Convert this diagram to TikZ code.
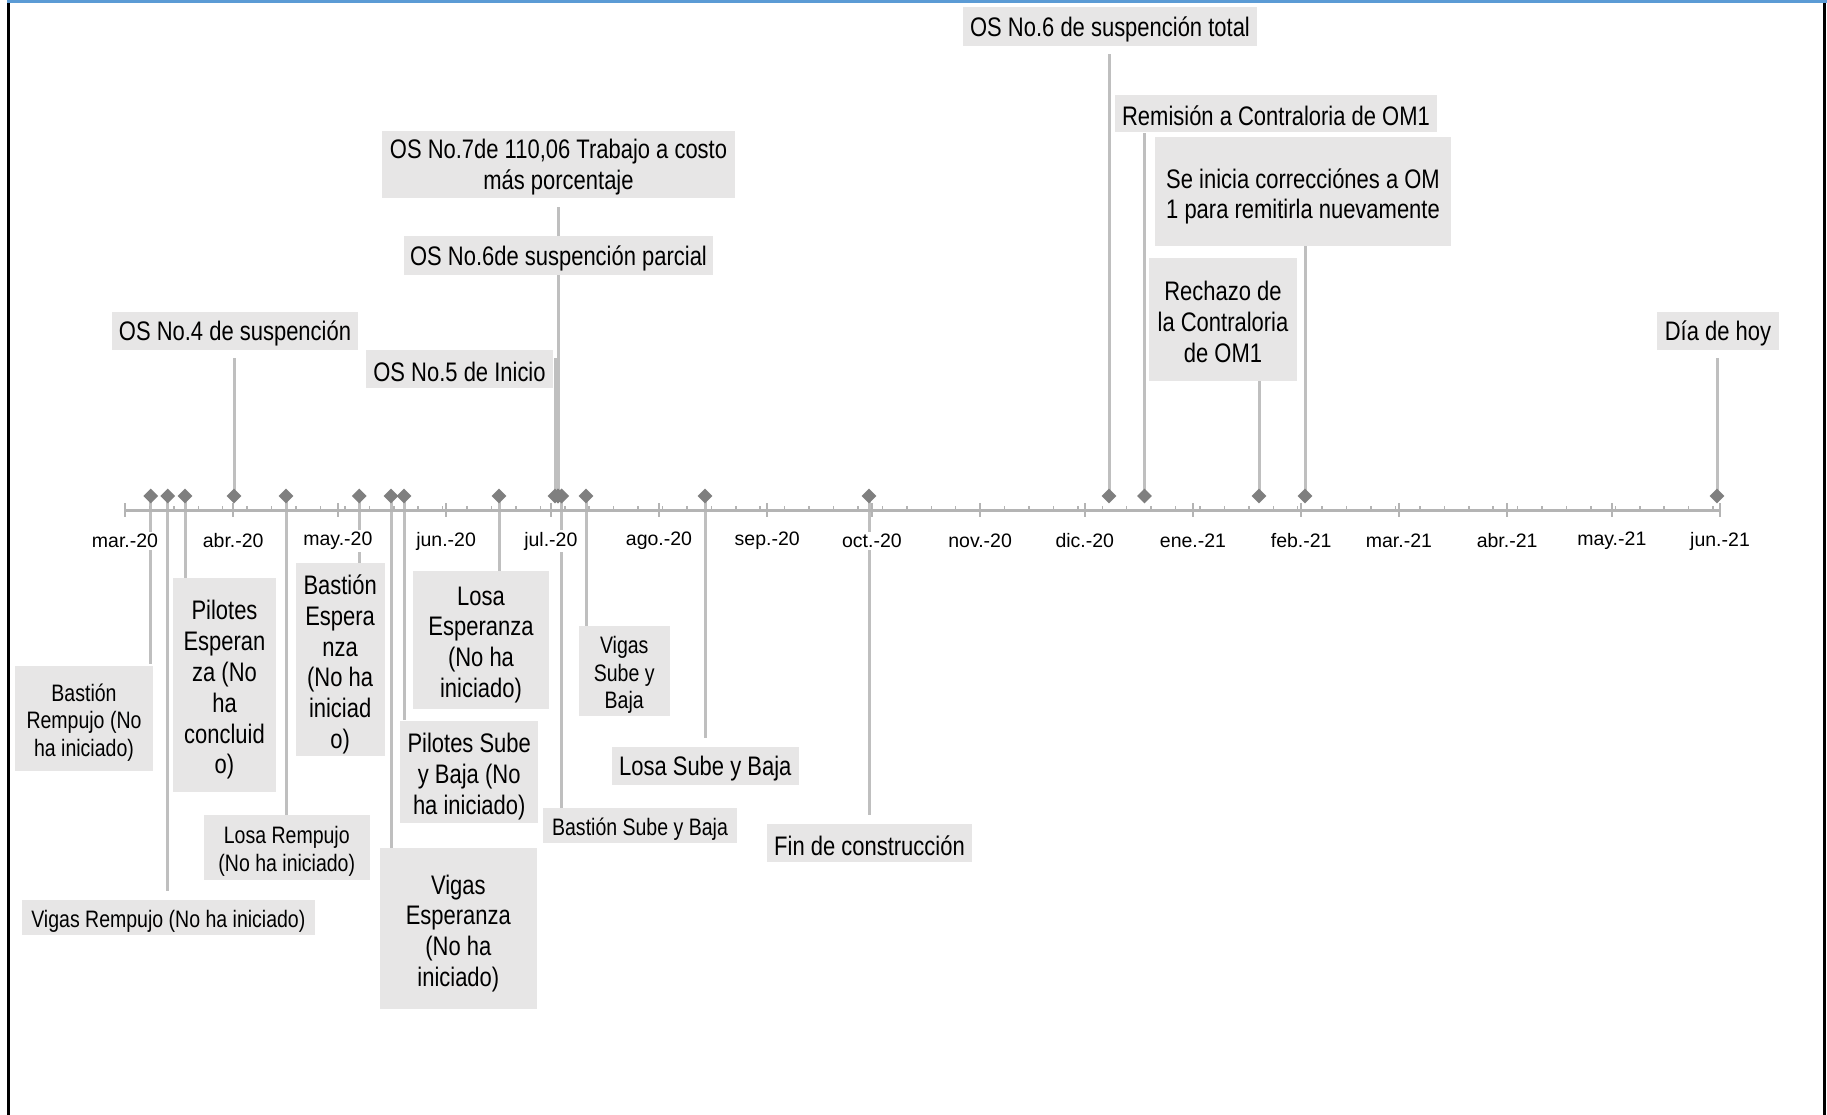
\documentclass[tikz,border=0pt]{standalone}
\usepackage{fontspec}
\setmainfont{Liberation Sans}
\newfontfamily\narrowfont[FakeStretch=0.82]{Liberation Sans}
\usetikzlibrary{shapes.geometric,calc}
\pgfdeclarelayer{bg}
\pgfsetlayers{bg,main}
\definecolor{boxfill}{HTML}{E7E6E6}
\definecolor{connc}{HTML}{BFBFBF}
\definecolor{diamc}{HTML}{7F7F7F}
\definecolor{axisc}{HTML}{B4B4B4}
\definecolor{framblue}{HTML}{5B9BD5}
\tikzset{
  boxshape/.style={fill=boxfill, inner sep=0pt},
  txtbase/.style={inner sep=0pt, align=center, text=black},
  bigtxt/.style={txtbase, yshift=-5pt, font=\narrowfont\fontsize{26.8}{30.8}\selectfont},
  bigone/.style={txtbase, yshift=-2.5pt, font=\narrowfont\fontsize{26.8}{30.8}\selectfont},
  smalltxt/.style={txtbase, yshift=-4pt, font=\narrowfont\fontsize{23.8}{27.5}\selectfont},
  mk/.style={diamond, fill=diamc, minimum width=15pt, minimum height=15pt, inner sep=0pt},
  conn/.style={draw=connc, line width=3pt},
  monthlab/.style={fill=white, inner sep=2pt, text=black, font=\fontsize{19.5}{23}\selectfont},
  axisline/.style={draw=axisc, line width=3pt},
  majtick/.style={draw=axisc, line width=2pt},
  mintick/.style={draw=axisc, line width=1.5pt},
}
% #1 name, #2 centre x,y, #3 width, #4 height, #5 text style, #6 text
\newcommand{\myevent}[6]{%
  \node[boxshape, minimum width=#3pt, minimum height=#4pt] (b#1) at (#2) {};
  \node[#5] (t#1) at (b#1.center) {#6};}
\begin{document}
\begin{tikzpicture}[x=1pt,y=-1pt]
\useasboundingbox (0,0) rectangle (1827,1115);
\begin{pgfonlayer}{bg}
\fill[white] (0,0) rectangle (1827,1115);
\end{pgfonlayer}
% frame
\draw[black, line width=2.7pt] (8.7,0) -- (8.7,1115);
\draw[black, line width=2.5pt] (1824.5,0) -- (1824.5,1115);
\draw[framblue, line width=2.6pt] (7,1.3) -- (1827,1.3);

% ---------- top boxes ----------
\myevent{A}{1110,26.75}{294}{38.5}{bigone}{OS No.6 de suspención total}
\myevent{B}{1276,113.75}{322}{37.5}{bigone}{Remisión a Contraloria de OM1}
\myevent{C}{1303,191.5}{296}{109}{bigtxt}{Se inicia correcciónes a OM\\1 para remitirla nuevamente}
\myevent{D}{1223,319.5}{148}{123}{bigone}{Rechazo de\\la Contraloria\\de OM1}
\myevent{E}{1718,331}{122}{38}{bigone}{Día de hoy}
\myevent{F}{235,331}{246}{38}{bigone}{OS No.4 de suspención}
\myevent{G}{459.5,369}{187}{38}{bigone}{OS No.5 de Inicio}
\myevent{H}{558.5,255.75}{309}{38.5}{bigone}{OS No.6de suspención parcial}
\myevent{I}{558.5,164.75}{353}{66.5}{bigone}{OS No.7de 110,06 Trabajo a costo\\más porcentaje}

% ---------- bottom boxes ----------
\myevent{1}{84,718.25}{138}{104.5}{smalltxt}{Bastión\\Rempujo (No\\ha iniciado)}
\myevent{2}{168.35,917.25}{292.7}{34.5}{smalltxt}{Vigas Rempujo (No ha iniciado)}
\myevent{3}{224.5,685}{103}{214}{bigtxt}{Pilotes\\Esperan\\za (No\\ha\\concluid\\o)}
\myevent{4}{286.8,847.5}{165.6}{65}{smalltxt}{Losa Rempujo\\(No ha iniciado)}
\myevent{5}{340.15,659.5}{89.3}{193}{bigtxt}{Bastión\\Espera\\nza\\(No ha\\iniciad\\o)}
\myevent{6}{458.35,928.35}{156.7}{160.7}{bigtxt}{Vigas\\Esperanza\\(No ha\\iniciado)}
\myevent{7}{469.2,771.8}{137.6}{102.4}{bigtxt}{Pilotes Sube\\y Baja (No\\ha iniciado)}
\myevent{8}{481,639.85}{135.3}{137.7}{bigtxt}{Losa\\Esperanza\\(No ha\\iniciado)}
\myevent{9}{640,825.2}{194}{35}{smalltxt}{Bastión Sube y Baja}
\myevent{10}{624.25,670.85}{90.5}{89.7}{smalltxt}{Vigas\\Sube y\\Baja}
\myevent{11}{705.25,766.15}{186.5}{38.3}{bigone}{Losa Sube y Baja}
\myevent{12}{869.5,843}{205}{38}{bigone}{Fin de construcción}

% ---------- axis ----------
\draw[axisline] (125,510) -- (1720,510);
\foreach \k in {0,...,65} {
  \draw[mintick] ({125+7*\k*3.4902},506) -- ({125+7*\k*3.4902},510);
}
\foreach \d/\lab [count=\i] in {0/mar.-20,31/abr.-20,61/may.-20,92/jun.-20,122/jul.-20,153/ago.-20,184/sep.-20,214/oct.-20,245/nov.-20,275/dic.-20,306/ene.-21,337/feb.-21,365/mar.-21,396/abr.-21,426/may.-21,457/jun.-21} {
  \draw[majtick] ({125+\d*3.4902},503) -- ({125+\d*3.4902},517);
  \node[monthlab] (m\i) at ({125+\d*3.4902},541) {\lab};
}

% ---------- diamonds ----------
\foreach \n/\x in {F/234,G/555,H/558,I/558,A/1109,B/1144.5,D/1259,C/1305,E/1717,
  1/150.7,2/167.7,3/185,4/286,5/359.3,6/391,7/404,8/499,9/561.6,10/586,11/705,12/869} {
  \node[mk] (d\n) at (\x,496) {};
}

% ---------- connectors ----------
\begin{pgfonlayer}{bg}
\draw[conn] (dF.center) -- ($(dF |- bF.south)+(0,8)$);
\draw[conn] (dG.center) -- ($(dG |- bG.north)+(0,8)$);
\draw[conn] (dH.center) -- (dH |- bH.south);
\draw[conn] (dI.center) -- ($(dI |- bI.south)+(0,9)$);
\draw[conn] (dA.center) -- ($(dA |- bA.south)+(0,8)$);
\draw[conn] (dB.center) -- (dB |- bB.south);
\draw[conn] (dC.center) -- (dC |- bC.south);
\draw[conn] (dD.center) -- (dD |- bD.south);
\draw[conn] (dE.center) -- ($(dE |- bE.south)+(0,8)$);
\draw[conn] (d1.center) -- ($(d1 |- b1.north)+(0,-2)$);
\draw[conn] (d2.center) -- ($(d2 |- b2.north)+(0,-9)$);
\draw[conn] (d3.center) -- (d3 |- b3.north);
\draw[conn] (d4.center) -- (d4 |- b4.north);
\draw[conn] (d5.center) -- (d5 |- b5.north);
\draw[conn] (d6.center) -- (d6 |- b6.north);
\draw[conn] (d7.center) -- (d7 |- b7.north);
\draw[conn] (d8.center) -- (d8 |- b8.north);
\draw[conn] (d9.center) -- (d9 |- b9.north);
\draw[conn] (d10.center) -- (d10 |- b10.north);
\draw[conn] (d11.center) -- ($(d11 |- b11.north)+(0,-9)$);
\draw[conn] (d12.center) -- ($(d12 |- b12.north)+(0,-9)$);
\end{pgfonlayer}
\end{tikzpicture}
\end{document}
